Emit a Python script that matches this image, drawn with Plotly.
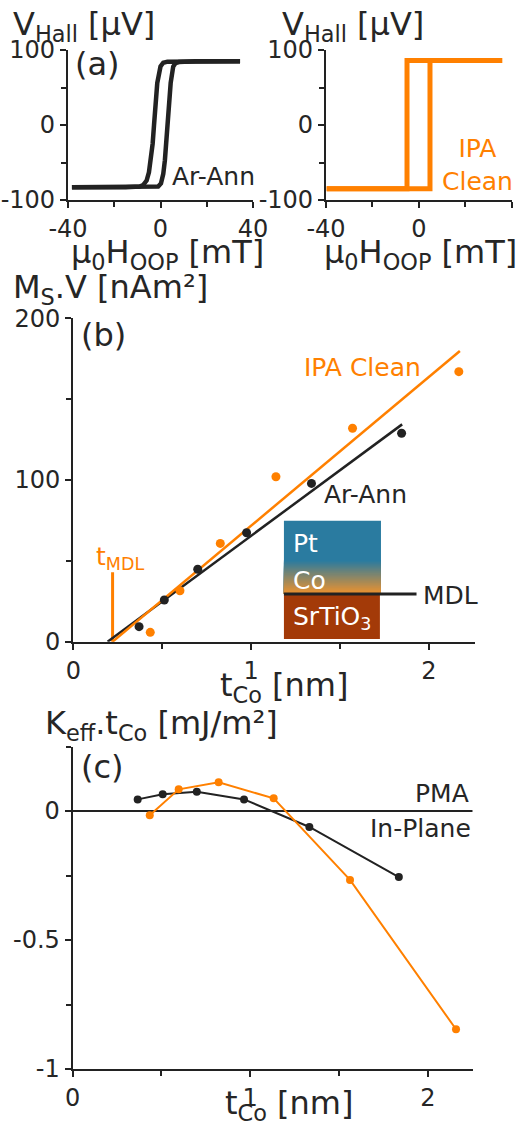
import plotly.graph_objects as go

# ---------------- data ----------------
# (a) Hall loops, Ar-Ann (black)
ar_desc_H = [34.4, 10, 3, 1.2, 0, -1.4, -2.2, -2.8, -3.4, -4.2, -5, -6, -7.5, -9, -15, -38.3]
ar_desc_V = [85, 85, 84.5, 83, 78, 56, 30, 0, -25, -47, -63, -74, -80, -82, -83, -83]
ar_asc_H = [-38.3, -10, -3, -1, 0.2, 1.2, 1.9, 2.4, 2.9, 3.4, 4.4, 5.5, 6.5, 8, 15, 34.4]
ar_asc_V = [-83, -83, -83, -82, -78, -65, -47, -25, 0, 25, 56, 78, 82.5, 84, 85, 85]
# (a) Hall loop, IPA clean (orange)
ipa_desc_H = [35.9, -5.1, -5.1, -39.7]
ipa_desc_V = [86, 86, -85, -85]
ipa_asc_H = [-39.7, 4.8, 4.8, 35.9]
ipa_asc_V = [-85, -85, 86, 86]

# (b) Ms.V vs tCo
ar_t = [0.37, 0.512, 0.70, 0.975, 1.34, 1.847]
ar_msv = [9.3, 25.8, 44.8, 67.4, 97.9, 128.9]
ipa_t = [0.433, 0.60, 0.827, 1.14, 1.571, 2.169]
ipa_msv = [5.8, 31.5, 60.8, 102, 132, 167]
ar_fit_t = [0.193, 1.85]
ar_fit_msv = [0, 134.4]
ipa_fit_t = [0.221, 2.175]
ipa_fit_msv = [0, 179.8]
t_mdl = 0.221
t_mdl_top = 43

# (c) Keff.tCo vs tCo
ar_kt = [0.366, 0.507, 0.699, 0.965, 1.333, 1.837]
ar_k = [0.045, 0.065, 0.075, 0.045, -0.062, -0.256]
ipa_kt = [0.434, 0.597, 0.822, 1.132, 1.562, 2.159]
ipa_k = [-0.016, 0.084, 0.111, 0.049, -0.267, -0.846]

# tick labels
a_x_ticks = [-40, 0, 40]
a_x_labels = ["-40", "0", "40"]
a_y_ticks = [-100, 0, 100]
a_y_labels = ["-100", "0", "100"]
b_x_ticks = [0, 1, 2]
b_x_labels = ["0", "1", "2"]
b_y_ticks = [0, 100, 200]
b_y_labels = ["0", "100", "200"]
c_y_ticks = [-1, -0.5, 0]
c_y_labels = ["-1", "-0.5", "0"]

# ---------------- style ----------------
W, H = 523, 1127
FONT = "DejaVu Sans"
TXT = "#262626"
AX = "#222222"
ORANGE = "#FF8000"
BLACK = "#222222"
TITLE = 32
LABEL = 25
PANEL = 32


def px(x):
    return x / W


def py(y):
    return 1 - y / H


fig = go.Figure()

# (a) left
for hx, vy in ((ar_desc_H, ar_desc_V), (ar_asc_H, ar_asc_V)):
    fig.add_trace(go.Scatter(x=hx, y=vy, mode="lines",
                             line=dict(color=BLACK, width=4.5), xaxis="x", yaxis="y"))
# (a) right
for hx, vy in ((ipa_desc_H, ipa_desc_V), (ipa_asc_H, ipa_asc_V)):
    fig.add_trace(go.Scatter(x=hx, y=vy, mode="lines",
                             line=dict(color=ORANGE, width=5), xaxis="x2", yaxis="y2"))

# (b)
fig.add_trace(go.Scatter(x=[t_mdl, t_mdl], y=[0, t_mdl_top], mode="lines",
                         line=dict(color=ORANGE, width=3), xaxis="x3", yaxis="y3"))
fig.add_trace(go.Scatter(x=ar_fit_t, y=ar_fit_msv, mode="lines",
                         line=dict(color=BLACK, width=2.5), xaxis="x3", yaxis="y3"))
fig.add_trace(go.Scatter(x=ipa_fit_t, y=ipa_fit_msv, mode="lines",
                         line=dict(color=ORANGE, width=2.5), xaxis="x3", yaxis="y3"))
fig.add_trace(go.Scatter(x=ar_t, y=ar_msv, mode="markers",
                         marker=dict(color=BLACK, size=9), xaxis="x3", yaxis="y3"))
fig.add_trace(go.Scatter(x=ipa_t, y=ipa_msv, mode="markers",
                         marker=dict(color=ORANGE, size=9), xaxis="x3", yaxis="y3"))

# (c)
fig.add_trace(go.Scatter(x=[0, 2.253], y=[0, 0], mode="lines",
                         line=dict(color=BLACK, width=2), xaxis="x4", yaxis="y4"))
fig.add_trace(go.Scatter(x=ar_kt, y=ar_k, mode="lines+markers",
                         line=dict(color=BLACK, width=2),
                         marker=dict(color=BLACK, size=8), xaxis="x4", yaxis="y4"))
fig.add_trace(go.Scatter(x=ipa_kt, y=ipa_k, mode="lines+markers",
                         line=dict(color=ORANGE, width=2),
                         marker=dict(color=ORANGE, size=8), xaxis="x4", yaxis="y4"))

tickfont = dict(family=FONT, size=24, color=TXT)


def axis(domain, rng, anchor, tickvals, ticktext, minor_dtick):
    return dict(domain=domain, range=rng, anchor=anchor, showline=True, linecolor=AX,
                linewidth=2.2, ticks="outside", ticklen=6, tickwidth=2.2, tickcolor=AX,
                showgrid=False, zeroline=False, tickvals=tickvals, ticktext=ticktext,
                tickfont=tickfont, automargin=False,
                minor=dict(ticks="outside", ticklen=5, tickwidth=2, tickcolor=AX,
                           dtick=minor_dtick, tick0=0, showgrid=False),
                fixedrange=True)


a_ydom = [py(200), py(50)]
fig.update_layout(
    xaxis=axis([px(68), px(253)], [-40, 40], "y", a_x_ticks, a_x_labels, 20),
    yaxis=axis(a_ydom, [-100, 100], "x", a_y_ticks, a_y_labels, 50),
    xaxis2=axis([px(326), px(511.7)], [-40, 40], "y2", a_x_ticks, a_x_labels, 20),
    yaxis2=axis(a_ydom, [-100, 100], "x2", a_y_ticks, a_y_labels, 50),
    xaxis3=axis([px(73.3), px(475)], [0, 2.26], "y3", b_x_ticks, b_x_labels, 0.5),
    yaxis3=axis([py(641.7), py(318.3)], [0, 200], "x3", b_y_ticks, b_y_labels, 50),
    xaxis4=axis([px(72.7), px(472.7)], [0, 2.253], "y4", b_x_ticks, b_x_labels, 0.5),
    yaxis4=axis([py(1069), py(746.5)], [-1, 0.25], "x4", c_y_ticks, c_y_labels, 0.25),
)

# inset (layer stack) in panel (b)
inset_x0, inset_x1 = 1.185, 1.731
shapes = []
shapes.append(dict(type="rect", xref="x3", yref="y3", x0=inset_x0, x1=inset_x1,
                   y0=48, y1=74.8, fillcolor="#2A7BA0", line=dict(width=0), layer="above"))
blue = (42, 123, 160)
orng = (236, 146, 46)
n = 30
g_top, g_bot = 50.5, 29.5
for i in range(n):
    f = i / (n - 1)
    c = tuple(int(round(blue[k] + (orng[k] - blue[k]) * f)) for k in range(3))
    y1 = g_top - (g_top - g_bot) * i / n
    shapes.append(dict(type="rect", xref="x3", yref="y3", x0=inset_x0, x1=inset_x1,
                       y0=g_bot, y1=y1, fillcolor="rgb(%d,%d,%d)" % c,
                       line=dict(width=0), layer="above"))
shapes.append(dict(type="rect", xref="x3", yref="y3", x0=inset_x0, x1=1.725,
                   y0=1.7, y1=29.2, fillcolor="#A33A08", line=dict(width=0), layer="above"))
shapes.append(dict(type="line", xref="x3", yref="y3", x0=inset_x0, x1=1.931,
                   y0=29.5, y1=29.5, line=dict(color=BLACK, width=3), layer="above"))
fig.update_layout(shapes=shapes)

ann = []


def add(text, x, y, size, color=TXT, xanchor="center", yanchor="middle"):
    ann.append(dict(text=text, x=px(x), y=py(y), xref="paper", yref="paper",
                    xanchor=xanchor, yanchor=yanchor, showarrow=False,
                    font=dict(family=FONT, size=size, color=color)))


add("V<sub>Hall</sub> [μV]", 11, 26, TITLE, xanchor="left")
add("V<sub>Hall</sub> [μV]", 280, 26, TITLE, xanchor="left")
add("μ<sub>0</sub>H<sub>OOP</sub> [mT]", 167, 254, TITLE)
add("μ<sub>0</sub>H<sub>OOP</sub> [mT]", 420, 254, TITLE)
add("(a)", 97, 64, PANEL)
add("Ar-Ann", 213, 176, LABEL)
add("IPA<br>Clean", 477, 165, LABEL, color=ORANGE)

add("M<sub>S</sub>.V [nAm²]", 11, 289, TITLE, xanchor="left")
add("(b)", 103, 335, PANEL)
add("IPA Clean", 362, 367, LABEL, color=ORANGE)
add("Ar-Ann", 365, 495, LABEL)
add("t<sub>MDL</sub>", 94, 558, LABEL, color=ORANGE, xanchor="left")
add("MDL", 421, 595, LABEL, xanchor="left")
add("Pt", 291, 543, LABEL, color="white", xanchor="left")
add("Co", 291, 580, LABEL, color="white", xanchor="left")
add("SrTiO<sub>3</sub>", 291, 618, LABEL, color="white", xanchor="left")
add("t<sub>Co</sub> [nm]", 284, 687, TITLE)

add("K<sub>eff</sub>.t<sub>Co</sub> [mJ/m²]", 43, 725, TITLE, xanchor="left")
add("(c)", 102, 767, PANEL)
add("PMA", 471, 793, LABEL, xanchor="right")
add("In-Plane", 473, 828, LABEL, xanchor="right")
add("t<sub>Co</sub> [nm]", 289, 1105, TITLE)

fig.update_layout(
    annotations=ann,
    width=W, height=H,
    margin=dict(l=0, r=0, t=0, b=0),
    paper_bgcolor="white", plot_bgcolor="white",
    showlegend=False,
    font=dict(family=FONT, color=TXT),
)

fig.write_html("out.html", config=dict(displayModeBar=False),
               post_script="document.body.style.margin='0';document.body.style.overflow='hidden';")
